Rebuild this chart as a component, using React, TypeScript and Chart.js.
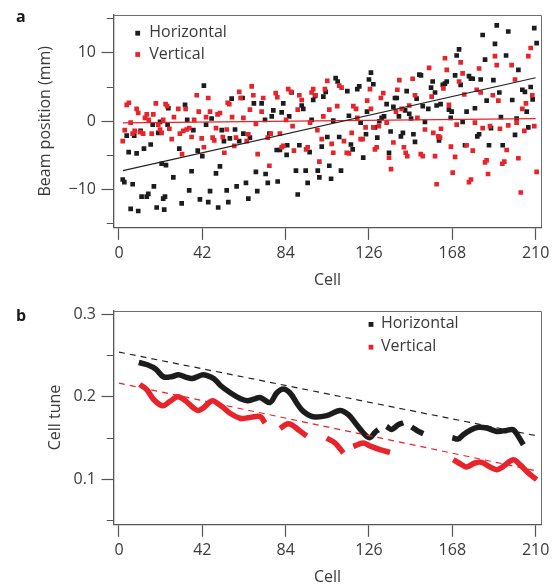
import React, { useEffect, useRef } from 'react';
import { Chart, registerables } from 'chart.js';

Chart.register(...registerables);

const FONT = '"Open Sans", "DejaVu Sans", sans-serif';
const TEXT = '#3a3a3a';
const AXIS = '#555555';
const BLACK = '#1c1c1c';
const RED = '#e8232a';

// ---------- Panel a: beam position per cell ----------
const horizontal: [number, number][] = [
  [1.9, -8.5], [2.7, -8.9], [3.9, -2.1], [4.9, -4.5], [5.9, -12.8], [6.9, -9.2], [7.7, -2.1], [8.9, -4.7],
  [9.7, -13.1], [10.9, -1.4], [11.4, -11.0], [12.6, -4.0], [14, -11.0], [14.8, -10.6], [16, -3.4], [17, -0.5],
  [17.6, -9.5], [19, -12.6], [19.8, -1.7], [20.7, -0.1], [21.5, -6.2], [22.3, -11.3], [22.8, -12.9], [23.2, -11.0],
  [23.7, -6.4], [24.5, -0.5], [24.9, 1.9], [27.4, -8.2], [30.4, -4.0], [31.6, -12.0], [33.3, 2.4], [34.4, 0.2],
  [35.4, -10.1], [36.6, -7.3], [37.5, -1.3], [39.7, -4.3], [40.8, -11.4], [42, -5.1], [42.8, 5.2], [43.9, -0.5],
  [45, -11.8], [45.9, -10.2], [46.7, 0.4], [48.9, -7.6], [50, -12.6], [50.9, -6.6], [51.8, -1.3], [52.9, -2.9],
  [54.3, -10.1], [55.1, -11.8], [55.9, -2.5], [56.8, 3.3], [58.5, -1.2], [59.3, -9.5], [60.6, -2.9], [62.3, 3.4],
  [62.7, -1.8], [64, -9.0], [65.2, -11.3], [66, -2.4], [68, 2.6], [69, -7.4], [69.7, -10.2], [71.9, 2.6],
  [73.6, 0.2], [73.9, -7.7], [75, -9.0], [75.8, -1.8], [77, 0.7], [77.8, 1.6], [79.5, -4.2], [80, -8.8],
  [81.1, -4.2], [82, 1.3], [82.8, 2.6], [84.5, -4.9], [84.8, -3.5], [85.8, 0.7], [87, 4.2], [89.2, -7.2],
  [90.1, -10.7], [90.9, -3.5], [92.1, 2.3], [92.9, 1.8], [94.1, -7.2], [95.1, -9.0], [96.1, -4.5], [97.1, 0.2],
  [97.9, 3.1], [98.8, 3.7], [100.2, -7.2], [101, -8.2], [102.2, -3.7], [103, 3.6], [104.2, 4.3], [105, -2.3],
  [106, -6.5], [106.9, -8.4], [108, 0.1], [109.2, 6.3], [110.2, 5.8], [111, -2.3], [111.9, -7.2], [115.1, 4.4],
  [115.9, 0.8], [116.9, -3.4], [117.8, -4.1], [120.1, 4.7], [121.1, 5.1], [121.8, -0.2], [123.1, -5.3], [124.5, -1.9],
  [125, 1.4], [126, 6.1], [127, 7.1], [128.2, 5.4], [129, -0.9], [130.2, -2.4], [131.2, 0], [132.4, 0.5],
  [133.6, 0.7], [134.9, 2.5], [136.1, -4.6], [136.9, -1.5], [138.3, 2.1], [139.1, 3.4], [140, 3.4], [141.1, 0.7],
  [142.1, -2.2], [143.1, -1.7], [144.2, 1.6], [145, 4.4], [146.3, 1.1], [147.2, 0.4], [148.4, -1.9], [149.2, -3.0],
  [150, 3.3], [151.4, 6.8], [152.2, 6.7], [153.1, 2.2], [154.2, -0.1], [155.9, 1.8], [157.3, 4.9], [158.1, 5.8],
  [159.3, 4.2], [160.1, 2.3], [161.3, -2.8], [162.1, 2.5], [163.2, 5.3], [164.3, 5.5], [165.2, 5.8], [166.3, 1.7],
  [167.2, 0.5], [167.7, 1.4], [169.4, 6.7], [170.2, 9.6], [171.4, 10.5], [172.2, 5.3], [173.2, -0.1], [174.4, -3.5],
  [175.2, 1.4], [176.4, 6.6], [177.4, 6.2], [178.3, 6.2], [179.4, 1.9], [180.6, -2.2], [181.5, -1.9], [182.3, 6.1],
  [183.3, 12.6], [184.5, 9.0], [185.3, 3.0], [186.5, -3.5], [187.5, -1.0], [188.7, 6.0], [189.5, 11.3], [190.4, 14.0],
  [191.7, 4.2], [192.5, 0.6], [193.4, -3.5], [195.1, 9.6], [196.2, 13.1], [198.2, 3.1], [199.6, -2.0], [200.4, 0.4],
  [201.3, 7.5], [203.3, 4.6], [204.6, 4.3], [205.5, 1.4], [206.3, -0.9], [207.5, 5.0], [208.5, 3.2], [209.3, 13.6],
  [210.5, 11.4],
];

const vertical: [number, number][] = [
  [1.9, -2.9], [2.9, -1.3], [3.9, 2.4], [5, 2.7], [5.9, -0.2], [6.9, -1.8], [7.9, -1.4], [8.9, 1.8],
  [9.7, 1.2], [10.6, -1.6], [12.2, -1.8], [13.1, 0.5], [14, 1.0], [15, 0.2], [16.5, -1.8], [17.3, 1.0],
  [18.6, 2.6], [19.8, -0.5], [20.7, -1.2], [21.5, -1.7], [22.3, 0.2], [23.5, 2.5], [24.3, 2.2], [25.4, -1.1],
  [26.6, -2.6], [27.7, 0.6], [29.9, 1.8], [30.7, -1.8], [31.8, -4.8], [32.4, -1.4], [33.6, 1.8], [34.1, -1.2],
  [35.4, -1.0], [36.6, -2.3], [37.9, 0.2], [39.2, 3.8], [40.2, 1.4], [41.7, -2.5], [42.8, -3.8], [43.9, 0.6],
  [45, 3.4], [45.9, 1.4], [47.2, -2.4], [48, -2.8], [48.9, -1.0], [49.7, 1.0], [50.9, 1.2], [52.3, -2.3],
  [53.1, -4.6], [54.3, -1.2], [54.8, 2.7], [55.6, 2.5], [57, 0.6], [58.1, -3.6], [59, -2.4], [60.6, 4.3],
  [61.3, 3.4], [62.7, 0.5], [64.4, -2.9], [65.2, -1.9], [66, 1.7], [66.9, 5.1], [67.7, 3.8], [69, -0.4],
  [69.9, -4.8], [71.9, 1.4], [72.7, 3.4], [75, -2.4], [75.8, -6.5], [76.5, -1.8], [79, 4.1], [79.8, 3.5],
  [81.1, -1.8], [82, -3.8], [82.8, -3.6], [84.2, 0.2], [85.3, 4.7], [86.7, 4.3], [87.5, -0.7], [88.2, -4.3],
  [90.1, 1.7], [90.9, 3.8], [92.1, 3.1], [94.3, -4.1], [95.1, -3.8], [96.3, -0.2], [97.1, 4.2], [97.9, 4.7],
  [99.1, 3.8], [100, -1.3], [101, -5.9], [102.2, -2.6], [103, 0.7], [103.8, 4.7], [105, 5.9], [106, 1.7],
  [107.2, -3.3], [108, -4.6], [110, 2.2], [111, 5.2], [112.2, 4.9], [113.4, -2.9], [114.8, -4.6], [115.9, -4.7],
  [117.3, -1.7], [118.1, 2.2], [119.5, 1.8], [120.1, 0.5], [121.8, -2.6], [122.8, -2.6], [124.3, -0.9], [125.1, 3.0],
  [126.5, 4.7], [127, 1.8], [128.2, -0.9], [129, -4.1], [129.9, -3.8], [131, -0.7], [132, 3.4], [133.2, 4.1],
  [134.9, -0.2], [136.1, -5.3], [137.1, -7.0], [138.3, -3.1], [139.6, 1.4], [140.3, 4.6], [141.3, 6.0], [142.5, 1.8],
  [143.6, -3.8], [144.5, -4.6], [145.3, -5.1], [146.3, 2.3], [148, 6.2], [149.2, 3.8], [150.4, 0.5], [152.1, -4.8],
  [153.1, -5.1], [154.2, -1.2], [156.3, 7.8], [157.6, 3.6], [158.4, -1.7], [159.3, -5.1], [160.1, -9.2], [161, -2.2],
  [161.8, -2.4], [162.3, -1.1], [163.5, 4.8], [164.3, 9.2], [165.2, 7.5], [166.3, 2.4], [167.3, -3.7], [168.2, -7.5],
  [169.4, -5.2], [170.2, -0.5], [171.4, 5.8], [172.2, 8.6], [173.2, 7.0], [174, 3.9], [175.2, -3.5], [176.4, -8.9],
  [177.4, -8.5], [178.3, -4.3], [179.4, -0.2], [180.3, 4.6], [181.5, 7.7], [182.3, 4.2], [183.3, -1.0], [184.5, -6.0],
  [185.3, -5.7], [186, -7.7], [187, -0.7], [188.4, 3.8], [189.5, 9.5], [190.4, 8.2], [191.2, 3.0], [192, -1.1],
  [193.2, -6.2], [194.2, -5.9], [195.4, -4.2], [196.2, -0.6], [197.9, 8.2], [199.6, 6.1], [200.4, -0.2], [201.3, -5.4],
  [202.5, -10.4], [203.3, 1.8], [204.3, -1.4], [205.1, 2.6], [206.3, 9.5], [207.5, 10.7], [208.3, 3.8], [209.3, -0.7],
  [210.5, -7.4],
];

const posFitCells = [2, 210];
const horizontalFit = [-7.2, 6.35];
const verticalFit = [-0.25, 0.39];
const posTicks = [-15, -10, -5, 0, 5, 10, 15];

// ---------- Panel b: cell tune ----------
const horizontalTune: [number, number | null][] = [
  [10, 0.2414], [14.3, 0.2386], [18.5, 0.2335], [22.5, 0.224], [26.9, 0.2245], [30, 0.2266], [33.6, 0.2238],
  [36.8, 0.222], [42, 0.2264], [44.5, 0.2254], [48, 0.2215], [51.3, 0.2133], [56.3, 0.2045], [61.3, 0.1975],
  [64.7, 0.1952], [68.5, 0.1975], [71.3, 0.199], [76.1, 0.193], [79.5, 0.2045], [82.8, 0.2093], [86.2, 0.2045],
  [89.6, 0.1924], [92.9, 0.1823], [97.9, 0.1758], [104.7, 0.1771], [111.4, 0.1835], [115.6, 0.1783],
  [119.8, 0.1662], [124, 0.1541], [126.5, 0.1505], [129, 0.1569], [130.7, 0.1601],
  [132.8, null],
  [134.9, 0.1641], [137.4, 0.1605], [140.8, 0.1662], [143.3, 0.1685],
  [145.4, null],
  [147.5, 0.1634], [150.9, 0.1581], [153.4, 0.1555],
  [160, null],
  [168, 0.1505], [171, 0.149], [173.5, 0.1541], [176.9, 0.1593], [181.1, 0.163], [185.3, 0.1622], [190.4, 0.1581],
  [195.4, 0.1593], [198.7, 0.1601], [201.3, 0.152], [203.8, 0.142],
];

const verticalTune: [number, number | null][] = [
  [10.5, 0.215], [14, 0.2085], [17.6, 0.1964], [22, 0.189], [25.5, 0.194], [29.7, 0.2], [33.6, 0.195],
  [37.8, 0.186], [40, 0.1835], [42.5, 0.1865], [46.8, 0.195], [50, 0.1915], [52.9, 0.1863], [56, 0.18],
  [61, 0.174], [65, 0.1745], [69, 0.1762], [71.5, 0.1755], [73.6, 0.1682],
  [77, null],
  [81.2, 0.1615], [84.5, 0.167], [87, 0.1662], [90.4, 0.1601], [94.6, 0.1525],
  [100, null],
  [104.7, 0.1501], [108.9, 0.1441], [113.1, 0.132],
  [115.5, null],
  [118.1, 0.14], [123.1, 0.1441], [126.5, 0.1405], [131.5, 0.136], [136.6, 0.1327],
  [150, null],
  [168.5, 0.1239], [172.7, 0.1179], [175.2, 0.1151], [179.4, 0.1199], [182.8, 0.1207], [187, 0.1151],
  [190.4, 0.1118], [193.7, 0.1158], [198.7, 0.1239], [202.1, 0.1179], [206.3, 0.1078], [210.5, 0.0998],
];

const tuneFitCells = [0, 210];
const horizontalTuneFit = [0.254, 0.153];
const verticalTuneFit = [0.2165, 0.1106];
const tuneTicks = [0.05, 0.1, 0.15, 0.2, 0.25, 0.3];

const cellTicks = [0, 42, 84, 126, 168, 210];

// ---------- helpers ----------
const toPoints = (arr: [number, number | null][]) => arr.map(([x, y]) => ({ x, y }));
const zip = (xs: number[], ys: number[]) => xs.map((x, i) => ({ x, y: ys[i] }));

type LegendItem = { label: string; color: string };

const makeLegendPlugin = (items: LegendItem[], dx: number, dy: number, rowGap: number, textGap: number) => ({
  id: 'insideLegend',
  afterDraw(chart: any) {
    const { ctx, chartArea } = chart;
    ctx.save();
    ctx.font = `16px ${FONT}`;
    ctx.textBaseline = 'middle';
    ctx.textAlign = 'left';
    items.forEach((it, i) => {
      const cx = chartArea.left + dx;
      const cy = chartArea.top + dy + i * rowGap;
      ctx.fillStyle = it.color;
      ctx.fillRect(cx - 2.4, cy - 2.4, 4.8, 4.8);
      ctx.fillStyle = TEXT;
      ctx.fillText(it.label, cx + textGap, cy - 0.5);
    });
    ctx.restore();
  },
});

const framePlugin = {
  id: 'frame',
  afterDraw(chart: any) {
    const { ctx, chartArea } = chart;
    ctx.save();
    ctx.strokeStyle = '#6e6e6e';
    ctx.lineWidth = 1;
    ctx.beginPath();
    ctx.moveTo(Math.round(chartArea.left), Math.round(chartArea.top) + 0.5);
    ctx.lineTo(Math.round(chartArea.right) + 0.5, Math.round(chartArea.top) + 0.5);
    ctx.lineTo(Math.round(chartArea.right) + 0.5, Math.round(chartArea.bottom));
    ctx.stroke();
    ctx.restore();
  },
};

type AxisCfg = {
  yMin: number;
  yMax: number;
  yTicks: number[];
  isMinor: (v: number) => boolean;
  fmt: (v: number) => string;
  yTitle: string;
  yTitlePad: number;
  xHeight: number;
  xTitlePad: number;
  padTop: number;
};

const makeOptions = (c: AxisCfg): any => ({
  responsive: false,
  animation: false,
  events: [],
  layout: { padding: { top: c.padTop, right: 13, left: 0, bottom: 0 } },
  plugins: { legend: { display: false }, tooltip: { enabled: false }, title: { display: false } },
  scales: {
    x: {
      type: 'linear',
      min: -2.5,
      max: 212.7,
      afterBuildTicks: (s: any) => {
        s.ticks = cellTicks.map((v) => ({ value: v }));
      },
      afterFit: (s: any) => {
        s.height = c.xHeight;
      },
      grid: { drawOnChartArea: false, tickLength: 12.5, tickColor: AXIS, tickWidth: 1.2 },
      border: { color: AXIS, width: 1.3 },
      ticks: {
        font: { family: FONT, size: 16 },
        color: TEXT,
        padding: 3.8,
        maxRotation: 0,
        autoSkip: false,
        callback: (v: number) => String(v),
      },
      title: {
        display: true,
        text: 'Cell',
        color: TEXT,
        font: { family: FONT, size: 16, lineHeight: 1 },
        padding: { top: 0, bottom: c.xTitlePad },
      },
    },
    y: {
      type: 'linear',
      min: c.yMin,
      max: c.yMax,
      afterBuildTicks: (s: any) => {
        s.ticks = c.yTicks.map((v) => ({ value: v }));
      },
      afterFit: (s: any) => {
        s.width = 114;
      },
      grid: {
        drawOnChartArea: false,
        tickLength: 12.5,
        tickColor: AXIS,
        tickWidth: 1.2,
        tickBorderDash: (ctx: any) => (ctx.tick && c.isMinor(ctx.tick.value) ? [0, 5.3, 30] : []),
      },
      border: { color: AXIS, width: 1.3 },
      ticks: {
        font: { family: FONT, size: 16 },
        color: TEXT,
        padding: 5.5,
        autoSkip: false,
        callback: (v: number) => (c.isMinor(v) ? '' : c.fmt(v)),
      },
      title: {
        display: true,
        text: c.yTitle,
        color: TEXT,
        font: { family: FONT, size: 16, lineHeight: 1.2 },
        padding: { top: c.yTitlePad, bottom: 0 },
      },
    },
  },
});

export default function App() {
  const topRef = useRef<HTMLCanvasElement | null>(null);
  const botRef = useRef<HTMLCanvasElement | null>(null);

  useEffect(() => {
    if (!topRef.current || !botRef.current) return;

    const topChart = new Chart(topRef.current, {
      type: 'scatter',
      data: {
        datasets: [
          {
            label: 'Horizontal fit',
            data: zip(posFitCells, horizontalFit),
            showLine: true,
            borderColor: '#222222',
            borderWidth: 1.2,
            pointRadius: 0,
            order: 0,
          },
          {
            label: 'Vertical fit',
            data: zip(posFitCells, verticalFit),
            showLine: true,
            borderColor: RED,
            borderWidth: 1.3,
            pointRadius: 0,
            order: 0,
          },
          {
            label: 'Horizontal',
            data: toPoints(horizontal),
            pointStyle: 'rect',
            pointRadius: 3.3,
            pointBorderWidth: 0,
            backgroundColor: BLACK,
            borderColor: BLACK,
            order: 2,
          },
          {
            label: 'Vertical',
            data: toPoints(vertical),
            pointStyle: 'rect',
            pointRadius: 3.3,
            pointBorderWidth: 0,
            backgroundColor: RED,
            borderColor: RED,
            order: 1,
          },
        ],
      },
      options: makeOptions({
        yMin: -15.5,
        yMax: 15.5,
        yTicks: posTicks,
        isMinor: (v) => Math.abs(v) % 10 !== 0,
        fmt: (v) => (v < 0 ? '\u2212' + Math.abs(v) : String(v)),
        yTitle: 'Beam position (mm)',
        yTitlePad: 35.4,
        xHeight: 62.6,
        xTitlePad: 1.5,
        padTop: 12.6,
      }),
      plugins: [
        framePlugin,
        makeLegendPlugin(
          [
            { label: 'Horizontal', color: BLACK },
            { label: 'Vertical', color: RED },
          ],
          23.7,
          18.1,
          21.3,
          11.6
        ),
      ],
    });

    const botChart = new Chart(botRef.current, {
      type: 'scatter',
      data: {
        datasets: [
          {
            label: 'Horizontal fit',
            data: zip(tuneFitCells, horizontalTuneFit),
            showLine: true,
            borderColor: '#222222',
            borderWidth: 1.2,
            borderDash: [6, 5],
            pointRadius: 0,
            order: 0,
          },
          {
            label: 'Vertical fit',
            data: zip(tuneFitCells, verticalTuneFit),
            showLine: true,
            borderColor: RED,
            borderWidth: 1.2,
            borderDash: [6, 5],
            pointRadius: 0,
            order: 0,
          },
          {
            label: 'Horizontal',
            data: toPoints(horizontalTune),
            showLine: true,
            spanGaps: false,
            tension: 0.35,
            borderColor: BLACK,
            borderWidth: 5.5,
            pointRadius: 0,
            order: 1,
          },
          {
            label: 'Vertical',
            data: toPoints(verticalTune),
            showLine: true,
            spanGaps: false,
            tension: 0.35,
            borderColor: RED,
            borderWidth: 5.5,
            pointRadius: 0,
            order: 1,
          },
        ],
      },
      options: makeOptions({
        yMin: 0.0458,
        yMax: 0.304,
        yTicks: tuneTicks,
        isMinor: (v) => Math.round(v * 100) % 10 !== 0,
        fmt: (v) => v.toFixed(1),
        yTitle: 'Cell tune',
        yTitlePad: 45.7,
        xHeight: 60.7,
        xTitlePad: 0,
        padTop: 20.7,
      }),
      plugins: [
        framePlugin,
        makeLegendPlugin(
          [
            { label: 'Horizontal', color: BLACK },
            { label: 'Vertical', color: RED },
          ],
          257,
          13.7,
          22.8,
          10
        ),
      ],
    });

    return () => {
      topChart.destroy();
      botChart.destroy();
    };
  }, []);

  const panelLabel: React.CSSProperties = {
    position: 'absolute',
    left: 16,
    fontFamily: FONT,
    fontWeight: 700,
    fontSize: 16,
    lineHeight: '16px',
    color: '#1a1a1a',
  };

  return (
    <div
      style={{
        position: 'absolute',
        left: 0,
        top: 0,
        width: 554,
        height: 585,
        background: '#ffffff',
        overflow: 'hidden',
      }}
    >
      <canvas ref={topRef} width={554} height={290} style={{ position: 'absolute', left: 0, top: 0 }} />
      <canvas ref={botRef} width={554} height={295} style={{ position: 'absolute', left: 0, top: 290 }} />
      <div style={{ ...panelLabel, top: 7.5 }}>a</div>
      <div style={{ ...panelLabel, top: 306.5 }}>b</div>
    </div>
  );
}
